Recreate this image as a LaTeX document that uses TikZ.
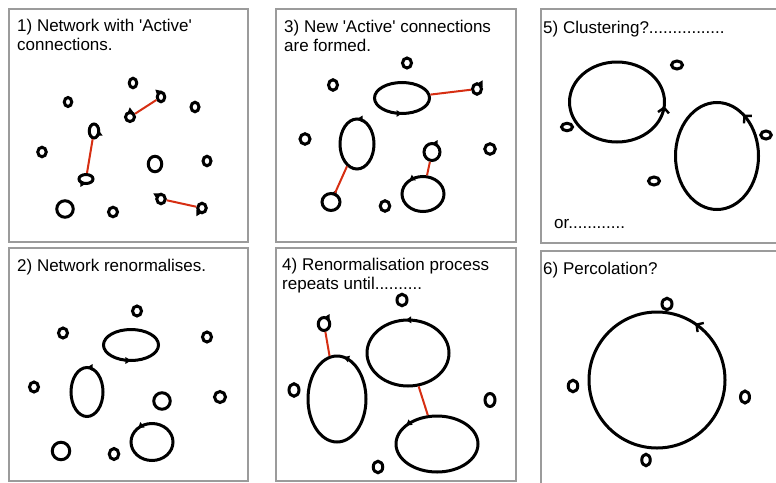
\documentclass[tikz,border=0pt]{standalone}
\usepackage{fontspec}
\setmainfont{Liberation Sans}
\usetikzlibrary{shapes.geometric, decorations.markings, arrows.meta}

\definecolor{linkred}{RGB}{214,46,18}
\definecolor{framegray}{RGB}{155,155,155}

\tikzset{
  ring/.style 2 args={ellipse, draw, line width=3, inner sep=0, minimum width=#1, minimum height=#2},
  spin/.style={postaction={decorate, decoration={markings, mark=at position #1 with {\arrow{Triangle[length=5.5pt,width=6.5pt]}}}}},
  bigspin/.style={postaction={decorate, decoration={markings, mark=at position #1 with {\arrow{Straight Barb[length=5pt,width=11pt,line width=2.4pt]}}}}},
  link/.style={draw=linkred, line width=2},
  panel/.style={draw=framegray, line width=1.2},
  title/.style={anchor=north west, inner sep=0, align=left, font=\fontsize{17}{18.5}\selectfont},
}

\begin{document}
\begin{tikzpicture}[x=1pt,y=1pt,yscale=-1,xscale=1]
        \useasboundingbox (0,0) rectangle (776,482);
        \clip (0,0) rectangle (776,482);

        %Shape: Rectangle (panels)
        \draw [panel] (9,9) rectangle (248,242);
        \draw [panel] (9,248) rectangle (248,481);
        \draw [panel] (276,9) rectangle (516,242);
        \draw [panel] (276,248) rectangle (516,481);
        \draw [panel] (541,9) rectangle (790,243);
        \draw [panel] (541,251) rectangle (790,495);

        % Text Node
        \draw (17,19) node (t1) [title] {1) Network with \textquotesingle Active\textquotesingle\\connections.};
        % Text Node
        \draw (17,259) node (t2) [title] {2) Network renormalises.};
        % Text Node
        \draw (284,20) node (t3) [title] {3) New \textquotesingle Active\textquotesingle{} connections\\are formed.};
        % Text Node
        \draw (282,258) node (t4) [title] {4) Renormalisation process\\repeats until..........};
        % Text Node
        \draw (543,21) node (t5) [title] {5) Clustering?................};
        % Text Node
        \draw (554,228) node (t5b) [title, anchor=base west] {or............};
        % Text Node
        \draw (543,262) node (t6) [title] {6) Percolation?};

        %Shape: Ellipse (panel 1)
        \draw (133,83) node (a1) [ring={7.5}{9.5}] {};
        \draw (68,102) node (a2) [ring={7.5}{9}] {};
        \draw (161,97) node (a3) [ring={7.5}{9.5}, spin=0.45] {};
        \draw (130,117) node (a4) [ring={9}{9}, spin=0.35] {};
        \draw (195,107) node (a5) [ring={8}{9.5}] {};
        \draw (94,131) node (a6) [ring={9.5}{14}, spin=0.02] {};
        \draw (86,179) node (a7) [ring={14}{9}, spin=0.75] {};
        \draw (42,152) node (a8) [ring={8.5}{9.5}] {};
        \draw (155,164) node (a9) [ring={13.5}{15.5}] {};
        \draw (207,161) node (a10) [ring={8}{9.5}] {};
        \draw (65,209) node (a11) [ring={16.5}{16.5}] {};
        \draw (113,212) node (a12) [ring={9}{9.5}] {};
        \draw (161,199) node (a13) [ring={8.5}{9.5}, spin=0.5] {};
        \draw (202,208) node (a14) [ring={8.5}{9.5}, spin=0.75] {};
        %Straight Lines
        \draw [link] (a3) -- (a4);
        \draw [link] (a6) -- (a7);
        \draw [link] (a13) -- (a14);

        %Shape: Ellipse (panel 2)
        \draw (137,311) node (b1) [ring={9}{10}] {};
        \draw (63,333) node (b2) [ring={9}{10}] {};
        \draw (131,345) node (b3) [ring={55}{31}, spin=0.75] {};
        \draw (207,337) node (b4) [ring={9}{10}] {};
        \draw (34,387) node (b5) [ring={9}{10}] {};
        \draw (87,392) node (b6) [ring={32}{49}, spin=0.25] {};
        \draw (162,401) node (b7) [ring={16.5}{16.5}] {};
        \draw (220,397) node (b8) [ring={11}{11}] {};
        \draw (61,451) node (b9) [ring={17.5}{17.5}] {};
        \draw (114,454) node (b10) [ring={9.5}{11}] {};
        \draw (152,442) node (b11) [ring={42}{37}, spin=0.37] {};

        %Shape: Ellipse (panel 3)
        \draw (407,63) node (c1) [ring={9}{10}] {};
        \draw (333,85) node (c2) [ring={9}{10.5}] {};
        \draw (402,98) node (c3) [ring={55}{31}, spin=0.75] {};
        \draw (477,89) node (c4) [ring={9}{10.5}, spin=0.25] {};
        \draw (305,139) node (c5) [ring={10}{10.5}] {};
        \draw (357,144) node (c6) [ring={34}{50}, spin=0.25] {};
        \draw (331,202) node (c7) [ring={18}{17}, spin=0.25] {};
        \draw (385,206) node (c8) [ring={9.5}{10.5}] {};
        \draw (490,149) node (c9) [ring={10.5}{10.5}] {};
        \draw (432,152) node (c10) [ring={16}{17}, spin=0.25] {};
        \draw (423,194) node (c11) [ring={42}{35}, spin=0.37] {};
        %Straight Lines
        \draw [link] (c3) -- (c4);
        \draw [link] (c6) -- (c7);
        \draw [link] (c10) -- (c11);

        %Shape: Ellipse (panel 4)
        \draw (402,300) node (d1) [ring={10}{11.5}] {};
        \draw (324,324) node (d2) [ring={11.5}{13}, spin=0.25] {};
        \draw (337,399) node (d3) [ring={58}{86}, spin=0.22] {};
        \draw (408,353) node (d4) [ring={82}{66}, spin=0.26] {};
        \draw (437,444) node (d5) [ring={82}{56}, spin=0.4] {};
        \draw (294,390) node (d6) [ring={10}{12.5}] {};
        \draw (490,400) node (d7) [ring={10}{13}] {};
        \draw (378,467) node (d8) [ring={9.5}{11.5}] {};
        %Straight Lines
        \draw [link] (d2) -- (d3);
        \draw [link] (d4) -- (d5);

        %Shape: Ellipse (panel 5)
        \draw (617,102) node (e1) [ring={95}{80}, bigspin=0.985] {};
        \draw (677,65) node (e2) [ring={11}{8}] {};
        \draw (567,127) node (e3) [ring={11}{7.5}] {};
        \draw (717,156) node (e4) [ring={83}{107}, bigspin=0.15] {};
        \draw (766,135) node (e5) [ring={10.5}{8}] {};
        \draw (654,181) node (e6) [ring={11}{8}] {};

        %Shape: Circle (panel 6)
        \draw (657,380) node (f1) [ring={136}{136}, bigspin=0.155] {};
        \draw (667,304) node (f2) [ring={10}{11.5}] {};
        \draw (573,386) node (f3) [ring={9.5}{11.5}] {};
        \draw (745,397) node (f4) [ring={9}{12}] {};
        \draw (646,460) node (f5) [ring={8.5}{11.5}] {};

\end{tikzpicture}
\end{document}
